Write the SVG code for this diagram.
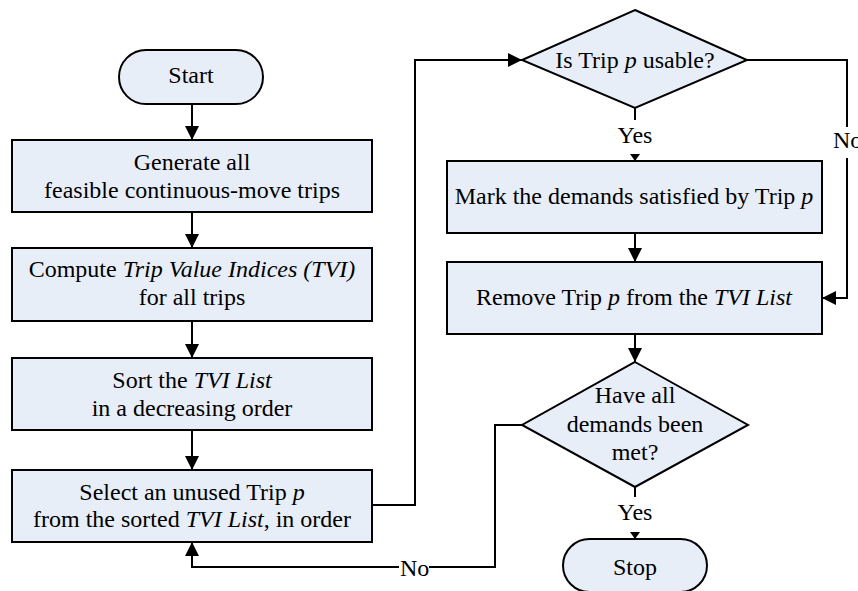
<svg xmlns="http://www.w3.org/2000/svg" width="858" height="591" viewBox="0 0 858 591">
  <style>
    .shape { fill: #E8EEF8; stroke: #000; stroke-width: 2; }
    .edge { fill: none; stroke: #000; stroke-width: 2; }
    text { font-family: 'Liberation Serif', 'DejaVu Serif', 'Times New Roman', serif; font-size: 24px; fill: #000; text-anchor: middle; }
    .lbl-left { text-anchor: start; }
    .it { font-style: italic; }
  </style>
  <defs>
    <marker id="arrow" viewBox="0 0 14 14" refX="14" refY="7" markerWidth="14" markerHeight="14" markerUnits="userSpaceOnUse" orient="auto">
      <path d="M0,0 L14,7 L0,14 z" fill="#000"/>
    </marker>
    <marker id="arrow-small" viewBox="0 0 7 10" refX="7" refY="5" markerWidth="7" markerHeight="10" markerUnits="userSpaceOnUse" orient="auto">
      <path d="M0,0 L7,5 L0,10 z" fill="#000"/>
    </marker>
  </defs>

  <rect width="858" height="591" fill="#fff"/>

  <!-- connectors -->
  <g id="connectors" font-family="Liberation Serif, serif">
    <path class="edge" d="M192,104 V140" marker-end="url(#arrow)"/>
    <path class="edge" d="M192,212 V248" marker-end="url(#arrow)"/>
    <path class="edge" d="M192,321 V358" marker-end="url(#arrow)"/>
    <path class="edge" d="M192,430 V470" marker-end="url(#arrow)"/>
    <path class="edge" d="M372,505 H415 V60 H522" marker-end="url(#arrow)"/>
    <!-- usable: yes -->
    <path class="edge" d="M635,108 V120"/>
    <text x="635" y="143">Yes</text>
    <path class="edge" d="M635,154 V161" marker-end="url(#arrow-small)"/>
    <!-- usable: no -->
    <path class="edge" d="M747,60 H847 V127"/>
    <text class="lbl-left" x="833" y="148">No</text>
    <path class="edge" d="M847,158 V298 H822" marker-end="url(#arrow)"/>
    <path class="edge" d="M635,233 V262" marker-end="url(#arrow)"/>
    <path class="edge" d="M635,334 V362" marker-end="url(#arrow)"/>
    <!-- demands met: yes -->
    <path class="edge" d="M635,487 V497"/>
    <text x="635" y="520">Yes</text>
    <path class="edge" d="M635,532 V539" marker-end="url(#arrow-small)"/>
    <!-- demands met: no -->
    <path class="edge" d="M522,425 H495 V567 H429"/>
    <text class="lbl-left" x="400" y="576">No</text>
    <path class="edge" d="M399,567 H192 V542" marker-end="url(#arrow)"/>
  </g>

  <g id="start">
    <rect class="shape" x="119" y="50" width="144" height="54" rx="27" ry="27"/>
    <text x="191" y="83">Start</text>
  </g>

  <g id="generate">
    <rect class="shape" x="12" y="140" width="360" height="72"/>
    <text x="192" y="170">Generate all</text>
    <text x="192" y="198">feasible continuous-move trips</text>
  </g>

  <g id="compute">
    <rect class="shape" x="12" y="248" width="360" height="73"/>
    <text x="192" y="277">Compute <tspan class="it">Trip Value Indices (TVI)</tspan></text>
    <text x="192" y="305">for all trips</text>
  </g>

  <g id="sort">
    <rect class="shape" x="12" y="358" width="360" height="72"/>
    <text x="192" y="388">Sort the <tspan class="it">TVI List</tspan></text>
    <text x="192" y="416">in a decreasing order</text>
  </g>

  <g id="select">
    <rect class="shape" x="12" y="470" width="360" height="72"/>
    <text x="192" y="500">Select an unused Trip <tspan class="it">p</tspan></text>
    <text x="192" y="527">from the sorted <tspan class="it">TVI List</tspan>, in order</text>
  </g>

  <g id="usable">
    <polygon class="shape" points="635,10 747,60 635,108 522,60"/>
    <text x="635" y="68">Is Trip <tspan class="it">p</tspan> usable?</text>
  </g>

  <g id="mark">
    <rect class="shape" x="447" y="161" width="375" height="72"/>
    <text x="634" y="204">Mark the demands satisfied by Trip <tspan class="it">p</tspan></text>
  </g>

  <g id="remove">
    <rect class="shape" x="447" y="262" width="375" height="72"/>
    <text x="634" y="305">Remove Trip <tspan class="it">p</tspan> from the <tspan class="it">TVI List</tspan></text>
  </g>

  <g id="met">
    <polygon class="shape" points="635,362 748,425 635,487 522,425"/>
    <text x="635" y="403">Have all</text>
    <text x="635" y="432">demands been</text>
    <text x="635" y="460">met?</text>
  </g>

  <g id="stop">
    <rect class="shape" x="563" y="539" width="144" height="53" rx="26.5" ry="26.5"/>
    <text x="635" y="575">Stop</text>
  </g>
</svg>
